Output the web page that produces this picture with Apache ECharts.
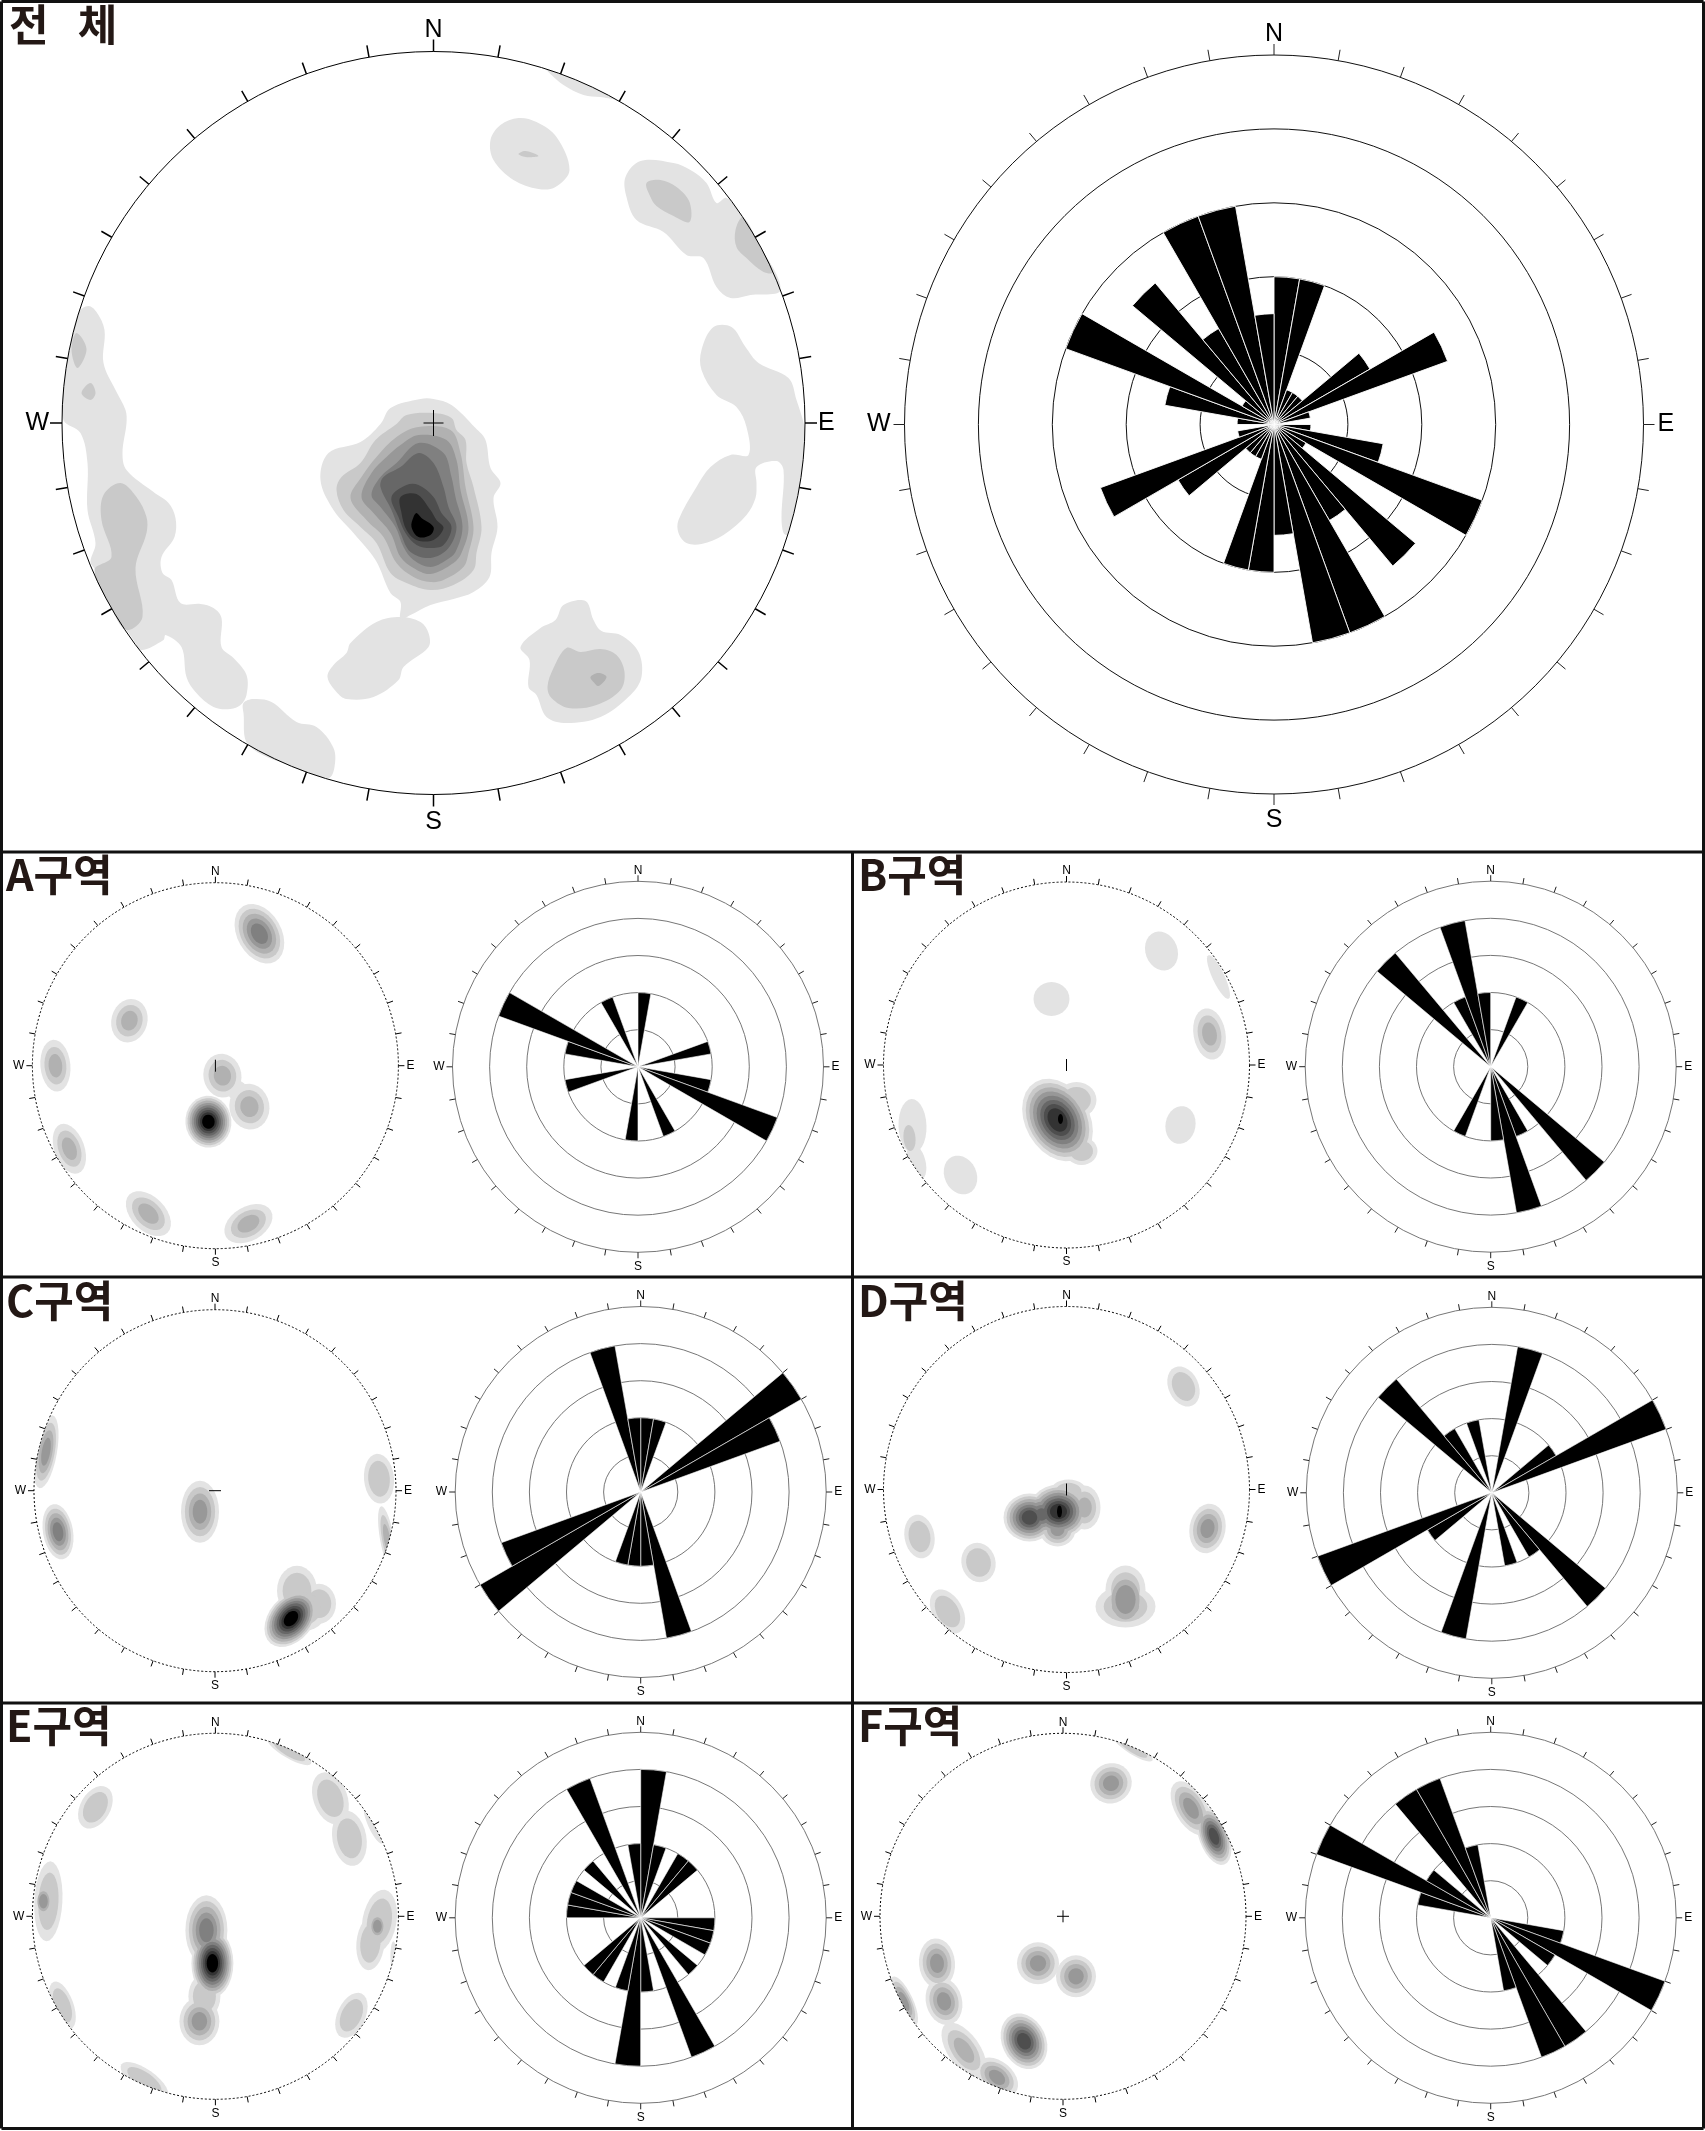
<!DOCTYPE html>
<html><head><meta charset="utf-8">
<style>html,body{margin:0;padding:0;background:#fff}#c{width:1705px;height:2131px}</style>
<script src="https://cdn.jsdelivr.net/npm/echarts@6/dist/echarts.min.js"></script>
</head><body><div id="c"></div>
<script>
// ---------- Rose values: count rings per 10 degree bin, 0-180 (the diagrams are bidirectional) ----------
const roseWhole=[2,2,.5,.5,.5,1.5,2.5,.5,0,.5,1.5,3,.5,2.5,1.5,3,3,1.5];
const roseA=[2,0,0,0,0,0,0,2,0,0,2,4,0,0,0,2,0,0];
const roseB=[0,0,2,0,0,0,0,0,0,0,0,0,0,4,0,2,4,2];
const roseC=[2,2,0,0,0,5,4,0,0,0,0,0,0,0,0,0,4,2];
const roseD=[0,4,0,0,0,2,5,0,0,0,0,0,0,4,2,0,2,0];
const roseE=[4,2,0,2,2,0,0,0,0,2,2,2,0,2,0,4,0,2];
const roseF=[0,0,0,0,0,0,0,0,0,0,2,5,2,0,4,4,2,0];
const binLabels=Array.from({length:36},(_,i)=>(i*10)+'-'+(i*10+10));
const compass={0:'N',90:'E',180:'S',270:'W'};
const greys=['#e3e3e3','#c9c9c9','#b1b1b1','#989898','#808080','#676767','#4e4e4e','#333333','#000000'];

// ---------- Whole-area stereonet contours: [level, [[east,north],...]] ----------
const contoursWhole=[
[0,[[-355,111],[-345,117],[-337,111],[-329,93],[-330,60],[-318,33],[-308,13],[-307,0],[-311,-30],[-307,-47],[-280,-69],[-265,-80],[-258,-95],[-259,-114],[-272,-134],[-271,-150],[-262,-157],[-253,-180],[-233,-181],[-220,-185],[-212,-195],[-212,-224],[-200,-235],[-187,-252],[-187,-272],[-193,-282],[-203,-286],[-220,-284],[-238,-269],[-247,-254],[-252,-224],[-268,-212],[-270,-217],[-292,-227],[-300,-217],[-320,-187],[-338,-147],[-343,-139],[-338,-120],[-346,-87],[-346,-40],[-353,-10],[-370,3],[-370,40],[-363,80]]],
[0,[[-190,-280],[-180,-276],[-162,-279],[-137,-299],[-117,-304],[-100,-325],[-99,-344],[-105,-355],[-140,-345],[-185,-322],[-190,-290]]],
[0,[[-57,-199],[-33,-194],[-13,-199],[-5,-210],[-5,-224],[-30,-244],[-35,-257],[-60,-274],[-87,-276],[-97,-269],[-106,-254],[-100,-242],[-87,-230],[-83,-220]]],
[0,[[-53,-1],[-43,15],[-13,24],[0,24],[18,18],[42,-5],[52,-17],[57,-45],[67,-60],[60,-75],[64,-104],[58,-130],[56,-154],[40,-169],[20,-176],[-3,-182],[-23,-192],[-33,-196],[-33,-179],[-43,-170],[-58,-137],[-80,-110],[-100,-87],[-113,-57],[-105,-30],[-73,-19]]],
[0,[[113,355],[127,349],[143,345],[182,325],[167,326],[150,328],[130,338],[118,348]]],
[0,[[57,283],[67,298],[85,305],[103,301],[123,286],[136,253],[122,236],[105,234],[80,243],[60,263]]],
[0,[[192,246],[207,262],[240,260],[257,253],[273,240],[283,220],[293,225],[307,210],[327,180],[347,133],[317,128],[297,125],[283,136],[270,165],[253,168],[230,191],[203,203],[193,226]]],
[0,[[268,73],[280,96],[298,96],[312,76],[325,60],[355,45],[363,23],[371,-4],[371,-17],[367,-57],[355,-112],[350,-110],[348,-94],[350,-47],[343,-38],[323,-44],[323,-60],[322,-75],[313,-92],[290,-112],[268,-121],[253,-120],[245,-110],[245,-97],[263,-64],[277,-44],[297,-32],[315,-32],[313,-4],[303,16],[283,28],[268,53]]],
[0,[[87,-224],[107,-205],[122,-197],[130,-182],[152,-178],[160,-197],[168,-208],[187,-212],[205,-229],[208,-254],[197,-272],[167,-294],[133,-300],[113,-294],[103,-272],[95,-264],[96,-237]]],
[1,[[-357,90],[-347,74],[-356,55],[-362,73]]],
[1,[[-343,40],[-338,30],[-343,23],[-352,30]]],
[1,[[-313,-60],[-297,-74],[-287,-94],[-287,-110],[-298,-145],[-291,-194],[-307,-207],[-323,-184],[-339,-147],[-322,-134],[-332,-97],[-330,-72]]],
[1,[[85,269],[92,272],[105,267],[92,266]]],
[1,[[213,240],[227,243],[243,236],[256,221],[256,201],[240,207],[223,217],[217,226]]],
[1,[[310,206],[327,178],[340,151],[330,151],[313,165],[303,176],[302,193]]],
[1,[[133,-225],[147,-229],[167,-226],[183,-232],[191,-249],[187,-267],[163,-282],[135,-285],[118,-275],[114,-264],[120,-245]]],
[1,[[-37,-1],[-27,8],[0,10],[18,5],[23,-7],[32,-17],[33,-40],[40,-64],[48,-104],[43,-130],[40,-147],[20,-162],[-3,-167],[-27,-160],[-43,-150],[-57,-120],[-73,-104],[-90,-87],[-97,-67],[-92,-54],[-73,-40],[-58,-17]]],
[2,[[157,-254],[165,-250],[173,-254],[165,-263],[160,-259]]],
[2,[[-15,-4],[17,-7],[27,-30],[32,-64],[40,-104],[35,-130],[30,-144],[10,-157],[-3,-159],[-20,-154],[-37,-140],[-50,-114],[-67,-97],[-83,-75],[-72,-54],[-57,-34],[-37,-14]]],
[3,[[-15,-12],[13,-17],[23,-37],[27,-67],[35,-104],[28,-130],[20,-140],[-3,-151],[-20,-145],[-33,-134],[-43,-110],[-60,-90],[-72,-74],[-62,-50],[-47,-34],[-33,-22]]],
[4,[[-15,-20],[10,-30],[18,-54],[22,-74],[29,-104],[22,-129],[13,-137],[-3,-144],[-20,-137],[-30,-124],[-38,-104],[-53,-84],[-62,-72],[-53,-54],[-37,-40]]],
[5,[[-15,-30],[0,-40],[10,-64],[15,-84],[23,-104],[15,-125],[-3,-135],[-23,-129],[-33,-110],[-42,-87],[-53,-64],[-50,-54],[-33,-44]]],
[6,[[-27,-62],[-15,-62],[0,-74],[8,-90],[18,-104],[10,-122],[-3,-125],[-17,-122],[-28,-110],[-35,-94],[-42,-74]]],
[7,[[-33,-74],[-17,-71],[-3,-87],[3,-97],[10,-105],[0,-117],[-17,-117],[-27,-107],[-32,-90]]],
[8,[[-17,-90],[-12,-95],[0,-104],[-3,-112],[-15,-114],[-22,-104],[-20,-94]]]
];

// ---------- Sub-area density clusters: [east,north,semi-minor,semi-major,tilt cw from N,levels,first level] ----------
const blobsA=[[44,132,22,32,150,5],[-86,45,18,22,15,3],[-160,0,15,26,175,3],[-146,-83,15,26,160,3],[-67,-148,17,27,135,3],[33,-158,17,26,60,3],[7,-10,19,22,170,3],[34,-41,20,23,170,3],[22,-25,10,10,0,1],[-7,-56,23,26,175,9]];
const blobsB=[[95,114,16,20,160,1],[152,88,6,24,155,1],[-15,66,18,17,0,1],[143,31,16,26,170,3],[114,-60,15,19,10,1],[-106,-110,16,20,155,1],[-154,-61,14,27,178,1],[-150,-97,9,18,165,1],[-157,-73,6,13,175,1,1],[-9,-55,32,44,150,8],[-6,-54,2.5,5,0,1,8],[15,-86,16,14,0,2],[10,-35,20,18,0,2]];
const blobsC=[[-169,39,11,37,10,4],[-157,-41,15,28,170,5],[-15,-21,19,31,0,4],[164,12,15,25,175,2],[172,-48,7,33,170,3],[82,-100,20,25,0,2],[104,-113,17,20,0,2],[90,-118,22,22,0,2],[76,-128,22,32,40,9]];
const blobsD=[[117,103,15,21,155,2],[141,-39,18,25,10,4],[-147,-47,15,22,170,2],[-88,-73,17,20,165,2],[-119,-122,15,24,150,2],[59,-100,20,24,0,2],[59,-117,30,21,0,3],[59,-110,14,20,0,2,2],[-37,-28,26,24,0,7],[-8,-22,30,27,0,8],[-7,-22,2.5,6,0,1,8],[2,-2,18,12,0,2],[18,-18,16,22,0,3],[-9,-40,18,17,0,4],[-25,-25,16,16,0,4,2]];
const blobsE=[[74,165,7,25,120,2],[-120,109,15,23,30,2],[115,118,17,27,160,2],[134,78,17,28,170,2],[158,91,5,20,155,1],[-167,15,14,40,3,2],[-172,15,6,10,0,2,2],[164,-5,17,32,10,2],[155,-27,14,27,5,2],[162,-10,6,9,0,2,2],[178,-40,3,15,0,1],[-9,-14,21,35,0,5],[-3,-47,21,34,0,9],[-16,-105,20,24,0,4],[-11,-80,16,22,0,2],[136,-99,14,24,25,2],[-153,-89,11,25,160,2],[-71,-164,11,28,125,2]];
const blobsF=[[70,168,6,23,122,2],[48,133,21,20,150,4],[128,108,16,30,150,4],[151,80,15,30,160,7],[-25,-47,21,21,0,4],[13,-60,20,21,0,4],[-126,-47,18,25,175,4],[-119,-85,18,24,165,4],[-159,-85,9,27,155,4],[-39,-125,22,29,155,7],[-99,-134,16,32,145,3],[-66,-161,16,24,130,4]];

// ---------- Layout ----------
const titles=['전   체','A구역','B구역','C구역','D구역','E구역','F구역'];
const titlePos=[[9,3],[6,853],[858,853],[6,1279],[858,1279],[6,1704],[858,1704]];
const stereoPos=[[433.5,423,371.5],[215.4,1065.7,183],[1066.5,1065,183],[215,1490.7,181],[1066.5,1489.5,183],[215.4,1916.3,183],[1063,1916.3,183]];
const rosePos=[[1274,424.5,369.5],[638,1066.8,185.5],[1490.7,1066.7,185.5],[640.7,1492,185.5],[1491.8,1492.8,185.5],[640.7,1917.8,185.5],[1490.7,1917.8,185.5]];
const crossArms=[[1,1],[0,1],[0,1],[1,0],[0,1],[0,0],[1,1]];
const roseData=[roseWhole,roseA,roseB,roseC,roseD,roseE,roseF];
const blobSets=[null,blobsA,blobsB,blobsC,blobsD,blobsE,blobsF];

function ellipsePts(b){
  const [x,y,rx,ry,tilt]=b, th=tilt*Math.PI/180, out=[];
  for(let i=0;i<28;i++){
    const t=i/28*2*Math.PI, u=rx*Math.cos(t), v=ry*Math.sin(t);
    out.push([x+u*Math.cos(th)+v*Math.sin(th), y-u*Math.sin(th)+v*Math.cos(th)]);
  }
  return out;
}
function blobContours(blobs){
  const list=[];
  blobs.forEach(b=>{
    const n=b[5], first=b[6]||0, step=Math.min(0.28,0.82/n);
    for(let k=0;k<n;k++){
      const f=1-k*step;
      let level=first+k;
      if(k===n-1&&n===9) level=8;
      list.push([level,ellipsePts([b[0],b[1],b[2]*f,b[3]*f,b[4]])]);
    }
  });
  return list;
}
function letterLabels(sExtra,sidePad){
  return {
    formatter:v=>compass[v]?'{'+compass[v].toLowerCase()+'|'+compass[v]+'}':'',
    rich:{
      n:{},
      s:{lineHeight:sExtra},
      e:{padding:[0,0,0,sidePad]},
      w:{padding:[0,sidePad,0,0]}
    }
  };
}

const opt={animation:false,backgroundColor:'#fff',title:[],grid:[],xAxis:[],yAxis:[],polar:[],angleAxis:[],radiusAxis:[],series:[],graphic:[]};
const frame={stroke:'#111',lineWidth:3};
[[1.5,1.5,1703.5,1.5],[1703.5,1.5,1703.5,2128.5],[1703.5,2128.5,1.5,2128.5],[1.5,2128.5,1.5,1.5],[1.5,852,1703.5,852],[1.5,1277,1703.5,1277],[1.5,1703,1703.5,1703],[852.5,852,852.5,2128.5]]
 .forEach(l=>opt.graphic.push({type:'line',silent:true,shape:{x1:l[0],y1:l[1],x2:l[2],y2:l[3]},style:frame}));

let pIdx=0;
titles.forEach((t,i)=>{
  const big=i===0;
  opt.title.push({text:t,left:titlePos[i][0],top:titlePos[i][1],padding:0,textStyle:{fontFamily:'Noto Sans CJK KR',fontWeight:'bold',fontSize:43,color:'#231815'}});
  const tickLen=big?12:6, fs=big?25:12;
  // stereonet contour plot
  const [sx,sy,sr]=stereoPos[i];
  opt.grid.push({left:sx-sr,top:sy-sr,width:2*sr,height:2*sr,show:false,containLabel:false});
  opt.xAxis.push({type:'value',gridIndex:i,min:-sr,max:sr,show:false});
  opt.yAxis.push({type:'value',gridIndex:i,min:-sr,max:sr,show:false});
  const contours=(big?contoursWhole:blobContours(blobSets[i])).slice().sort((a,b)=>a[0]-b[0]);
  const smooth=big?0.35:0;
  opt.series.push({type:'custom',coordinateSystem:'cartesian2d',xAxisIndex:i,yAxisIndex:i,silent:true,clip:false,z:2,
    data:contours.map(c=>[c[1][0][0],c[1][0][1],c[0]]),encode:{x:0,y:1},
    renderItem:(params,api)=>{
      const c=contours[params.dataIndex];
      const pts=c[1].map(p=>{const h=Math.hypot(p[0],p[1]),s=h>sr?sr/h:1;return api.coord([p[0]*s,p[1]*s]);});
      return {type:'polygon',shape:{points:pts,smooth:smooth},style:{fill:greys[c[0]]}};
    }});
  // centre mark
  const arm=big?[10,13]:[6,6];
  if(crossArms[i][0]) opt.series.push({type:'line',xAxisIndex:i,yAxisIndex:i,silent:true,symbol:'none',z:4,lineStyle:{color:'#000',width:1},data:[[-arm[0],0],[arm[0],0]]});
  if(crossArms[i][1]) opt.series.push({type:'line',xAxisIndex:i,yAxisIndex:i,silent:true,symbol:'none',z:4,lineStyle:{color:'#000',width:1},data:[[0,-arm[1]],[0,arm[1]]]});
  // stereonet rim + ticks
  opt.polar.push({center:[sx,sy],radius:sr});
  opt.radiusAxis.push({polarIndex:pIdx,type:'value',min:0,max:1,show:false});
  opt.angleAxis.push({polarIndex:pIdx,type:'value',min:0,max:360,interval:10,startAngle:90,clockwise:true,z:5,
    axisLine:{show:true,lineStyle:{color:'#000',width:1,type:big?'solid':[2,2]}},
    axisTick:{show:true,length:tickLen,lineStyle:{color:'#000',width:big?1.5:1}},
    splitLine:{show:false},
    axisLabel:Object.assign({show:true,margin:big?9:5,fontFamily:'Liberation Sans',fontSize:fs,color:'#000'},letterLabels(big?fs+12:fs+6,big?4:3))});
  pIdx++;
  // rose: bars and rings
  const [rx,ry,rr]=rosePos[i];
  const ringC=big?'#111':'#777';
  opt.polar.push({center:[rx,ry],radius:rr});
  opt.radiusAxis.push({polarIndex:pIdx,type:'value',min:0,max:5,interval:1,axisLine:{show:false},axisTick:{show:false},axisLabel:{show:false},splitLine:{show:true,lineStyle:{color:ringC,width:1}}});
  opt.angleAxis.push({polarIndex:pIdx,type:'category',data:binLabels,startAngle:90,clockwise:true,boundaryGap:true,z:1,
    axisLine:{show:false},
    axisTick:{show:true,interval:0,length:big?11:6,lineStyle:{color:'#222',width:1}},
    axisLabel:{show:false},splitLine:{show:false}});
  opt.series.push({type:'bar',coordinateSystem:'polar',polarIndex:pIdx,silent:true,z:3,barCategoryGap:0,barGap:0,
    itemStyle:{color:'#000',borderColor:'#fff',borderWidth:big?0.9:0.6},
    data:roseData[i].concat(roseData[i])});
  pIdx++;
  // rose compass letters
  opt.polar.push({center:[rx,ry],radius:rr});
  opt.radiusAxis.push({polarIndex:pIdx,type:'value',min:0,max:1,show:false});
  opt.angleAxis.push({polarIndex:pIdx,type:'value',min:0,max:360,interval:90,startAngle:90,clockwise:true,
    axisLine:{show:false},axisTick:{show:false},splitLine:{show:false},
    axisLabel:Object.assign({show:true,margin:big?8:5,fontFamily:'Liberation Sans',fontSize:fs,color:'#000'},letterLabels(big?fs+12:fs+6,big?6:3))});
  pIdx++;
});
echarts.init(document.getElementById('c'),null,{renderer:'canvas'}).setOption(opt);
</script></body></html>
